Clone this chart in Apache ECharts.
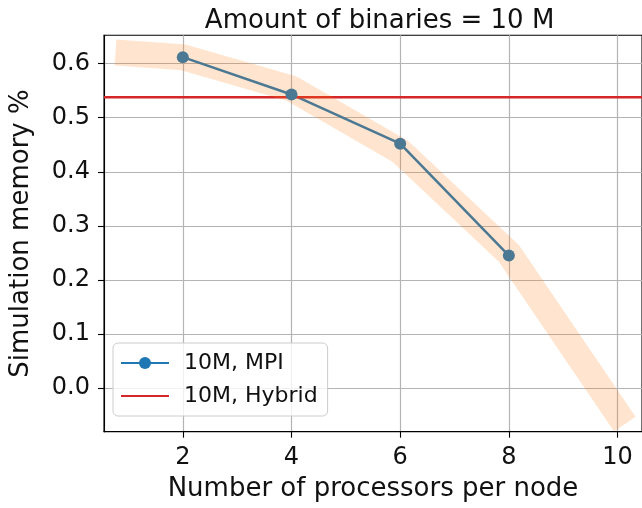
<!DOCTYPE html>
<html>
<head>
<meta charset="utf-8">
<script src="https://cdn.jsdelivr.net/npm/echarts@6/dist/echarts.min.js"></script>
<style>
  html, body { margin: 0; padding: 0; background: #ffffff; }
  #chart { width: 642px; height: 508px; }
</style>
</head>
<body>
<div id="chart"></div>
<script>
// Processors per node and simulation memory (%) for the MPI runs
const procs = [2, 4, 6, 8];
const mpiMemory = [0.612, 0.543, 0.452, 0.245];

// Hybrid run memory (%), drawn as a horizontal reference line
const hybridMemory = 0.538;

// Broad trend band behind the MPI curve
const trendProcs = [1, 2, 4, 6, 8, 10];
const trendMemory = [0.619, 0.612, 0.554, 0.438, 0.249, -0.047];

// Tick labels
const xTicks = [2, 4, 6, 8, 10];
const yTicks = [0.0, 0.1, 0.2, 0.3, 0.4, 0.5, 0.6];

const X_MIN = 0.55, X_MAX = 10.45;
const Y_MIN = -0.0809, Y_MAX = 0.6525;

const FONT = 'DejaVu Sans';
const TEXT = '#111111';

const chart = echarts.init(document.getElementById('chart'), null, { renderer: 'canvas' });

const option = {
  animation: false,
  backgroundColor: '#ffffff',
  textStyle: { fontFamily: FONT },
  title: {
    text: 'Amount of binaries = 10 M',
    left: 374.6,
    top: 3,
    textAlign: 'center',
    textStyle: { fontFamily: FONT, fontSize: 26, fontWeight: 'normal', color: TEXT }
  },
  grid: {
    left: 101.7,
    top: 35.3,
    width: 545.8,
    height: 396.4,
    show: true,
    borderColor: '#000000',
    borderWidth: 1.1,
    backgroundColor: 'transparent'
  },
  legend: {
    orient: 'vertical',
    left: 113,
    top: 343,
    data: [
      { name: '10M, MPI' },
      { name: '10M, Hybrid', itemStyle: { opacity: 0 } }
    ],
    itemWidth: 48,
    itemHeight: 15,
    itemGap: 11,
    padding: [9, 10, 9, 7],
    backgroundColor: 'rgba(255,255,255,0.8)',
    borderColor: '#cccccc',
    borderWidth: 1,
    borderRadius: 5,
    textStyle: { fontFamily: FONT, fontSize: 22, color: TEXT, padding: [0, 0, 0, 10] }
  },
  xAxis: {
    type: 'value',
    min: X_MIN,
    max: X_MAX,
    name: 'Number of processors per node',
    nameLocation: 'middle',
    nameGap: 45,
    nameTextStyle: { fontFamily: FONT, fontSize: 26, color: TEXT },
    axisLine: { show: true, onZero: false, lineStyle: { color: '#000000', width: 1.1 } },
    axisTick: { show: true, length: 6, customValues: xTicks, lineStyle: { color: '#000000', width: 1.1 } },
    axisLabel: {
      customValues: xTicks,
      margin: 14,
      fontFamily: FONT, fontSize: 24, color: TEXT,
      formatter: v => String(v)
    },
    splitLine: { show: true, lineStyle: { color: '#b4b4b4', width: 1.2 } }
  },
  yAxis: {
    type: 'value',
    min: Y_MIN,
    max: Y_MAX,
    name: 'Simulation memory %',
    nameLocation: 'middle',
    nameGap: 70,
    nameRotate: 90,
    nameTextStyle: { fontFamily: FONT, fontSize: 26, color: TEXT },
    axisLine: { show: true, onZero: false, lineStyle: { color: '#000000', width: 1.1 } },
    axisTick: { show: true, length: 6, customValues: yTicks, lineStyle: { color: '#000000', width: 1.1 } },
    axisLabel: {
      customValues: yTicks,
      margin: 14,
      fontFamily: FONT, fontSize: 24, color: TEXT,
      formatter: v => Number(v).toFixed(1)
    },
    splitLine: { show: true, lineStyle: { color: '#b4b4b4', width: 1.2 } }
  },
  series: [
    {
      name: '10M, MPI',
      type: 'line',
      data: procs.map((p, i) => [p, mpiMemory[i]]),
      symbol: 'circle',
      symbolSize: 12,
      showSymbol: true,
      color: '#1f77b4',
      lineStyle: { color: '#1f77b4', width: 2.5 },
      itemStyle: { color: '#1f77b4' },
      z: 3
    },
    {
      name: '10M, Hybrid',
      type: 'line',
      data: [[X_MIN, hybridMemory], [X_MAX, hybridMemory]],
      symbol: 'none',
      showSymbol: false,
      color: '#d62728',
      lineStyle: { color: '#d62728', width: 2.5 },
      itemStyle: { color: '#d62728', opacity: 0 },
      z: 3
    },
    {
      name: 'trend',
      type: 'line',
      data: trendProcs.map((p, i) => [p, trendMemory[i]]),
      symbol: 'none',
      showSymbol: false,
      silent: true,
      lineStyle: { color: 'rgba(255,127,14,0.2)', width: 26, cap: 'square', join: 'round' },
      z: 4
    }
  ]
};

chart.setOption(option);
</script>
</body>
</html>
